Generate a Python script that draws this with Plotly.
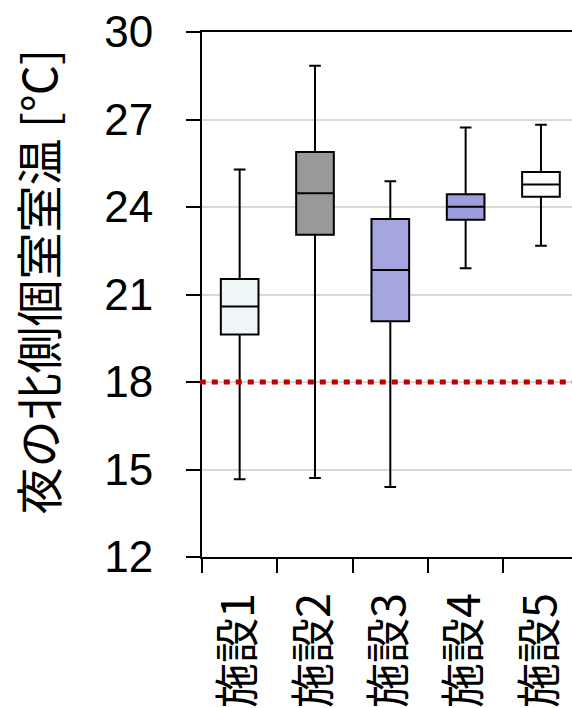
import plotly.graph_objects as go

# Night-time north private-room temperature per facility (box summary statistics, °C)
facilities = ["施設1", "施設2", "施設3", "施設4", "施設5"]
upper_whisker = [25.29, 28.84, 24.88, 26.73, 26.82]
q3_values = [21.53, 25.89, 23.59, 24.44, 25.20]
median_values = [20.59, 24.47, 21.84, 24.01, 24.77]
q1_values = [19.63, 23.05, 20.08, 23.56, 24.35]
lower_whisker = [14.67, 14.71, 14.40, 21.90, 22.67]
box_fills = ["#EFF6F8", "#999999", "#A5A5DF", "#9E9EDF", "#FFFFFF"]

threshold = 18
y_ticks = [12, 15, 18, 21, 24, 27, 30]
y_title = "夜の北側個室室温 [℃]"

fig = go.Figure()
for i, name in enumerate(facilities):
    fig.add_trace(go.Box(
        x=[name],
        q1=[q1_values[i]],
        median=[median_values[i]],
        q3=[q3_values[i]],
        lowerfence=[lower_whisker[i]],
        upperfence=[upper_whisker[i]],
        fillcolor=box_fills[i],
        line=dict(color="black", width=2),
        width=0.5,
        whiskerwidth=0.31,
        boxpoints=False,
        hoverinfo="skip",
        name=name,
    ))

# Reference temperature line
fig.add_shape(
    type="line", xref="paper", yref="y",
    x0=-0.006, x1=1, y0=threshold, y1=threshold,
    line=dict(color="#C00000", width=5, dash="6px,6px"),
    layer="above",
)

fig.add_annotation(
    text=y_title, textangle=-90,
    xref="paper", yref="paper", x=-0.447, y=0.524,
    xanchor="center", yanchor="middle", showarrow=False,
    font=dict(family="Noto Sans CJK JP", size=47, color="black"),
)

fig.update_layout(
    width=572, height=708,
    margin=dict(l=202, r=0, t=32, b=149),
    plot_bgcolor="white", paper_bgcolor="white",
    showlegend=False, boxmode="overlay",
    xaxis=dict(
        type="category",
        categoryorder="array", categoryarray=facilities,
        range=[-0.5, 4.412],
        showline=True, linecolor="black", linewidth=2, mirror=True,
        ticks="outside", ticklen=14, tickwidth=1.5, tickcolor="black",
        tickson="boundaries", tickangle=-90,
        tickfont=dict(family="Noto Sans CJK JP", size=45, color="black"),
        ticklabelstandoff=16,
        showgrid=False, zeroline=False,
    ),
    yaxis=dict(
        range=[12, 30], tickvals=y_ticks,
        showline=True, linecolor="black", linewidth=2,
        ticks="outside", ticklen=14, tickwidth=1.5, tickcolor="black",
        tickfont=dict(family="Liberation Sans", size=44, color="black"),
        ticklabelstandoff=24,
        showgrid=True, gridcolor="#D9D9D9", gridwidth=1.5,
        zeroline=False,
    ),
)

fig.write_html("out.html")
